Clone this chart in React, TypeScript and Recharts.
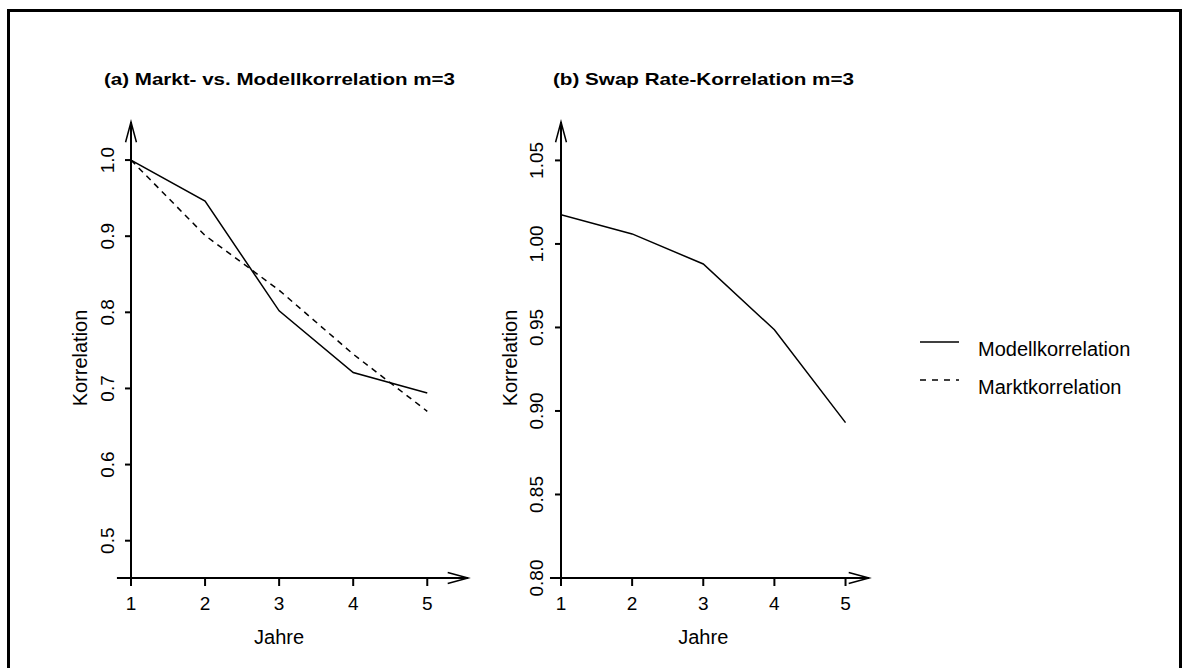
import React from 'react';
import { LineChart, Line, XAxis, YAxis, ReferenceLine, Legend, Label } from 'recharts';

const jahre = [1, 2, 3, 4, 5];
const modellA = [1.0, 0.946, 0.802, 0.721, 0.694];
const marktA = [1.0, 0.901, 0.829, 0.745, 0.67];
const swapB = [1.0175, 1.006, 0.988, 0.9486, 0.893];
const ticksA = [0.5, 0.6, 0.7, 0.8, 0.9, 1.0];
const ticksB = [0.8, 0.85, 0.9, 0.95, 1.0, 1.05];
const seriesNames = ['Modellkorrelation', 'Marktkorrelation'];
const titles = ['(a) Markt- vs. Modellkorrelation m=3', '(b) Swap Rate-Korrelation m=3'];

const dataA = jahre.map((j, i) => ({ jahr: j, modell: modellA[i], markt: marktA[i] }));
const dataB = jahre.map((j, i) => ({ jahr: j, swap: swapB[i] }));

const FONT = '"Liberation Sans", Arial, Helvetica, sans-serif';
const dashes: Record<string, string | undefined> = {
  Modellkorrelation: undefined,
  Marktkorrelation: '6 6',
};

// axis line drawn with an open arrow head at the far end
const AxisArrow = (p: any) => {
  const { x1, y1, x2, y2 } = p;
  const ang = Math.atan2(y2 - y1, x2 - x1);
  const len = 21;
  const spread = Math.PI / 12;
  const a1 = ang + Math.PI - spread;
  const a2 = ang + Math.PI + spread;
  return (
    <g>
      <line x1={x1} y1={y1} x2={x2} y2={y2} stroke="#000" strokeWidth={2} />
      <polyline
        points={`${x2 + len * Math.cos(a1)},${y2 + len * Math.sin(a1)} ${x2},${y2} ${x2 + len * Math.cos(a2)},${y2 + len * Math.sin(a2)}`}
        fill="none"
        stroke="#000"
        strokeWidth={1.5}
      />
    </g>
  );
};

const makeYTick = (dec: number) => (props: any) => {
  const { x, y, payload } = props;
  return (
    <text x={x} y={y} transform={`rotate(-90 ${x} ${y})`} textAnchor="middle" fontSize={19} fill="#000" fontFamily={FONT}>
      {Number(payload.value).toFixed(dec)}
    </text>
  );
};

const xLabel = (xmin: number, xmax: number) => (props: any) => {
  const vb = props.viewBox || {};
  const mid = (jahre[0] + jahre[jahre.length - 1]) / 2;
  const cx = vb.x + (vb.width * (mid - xmin)) / (xmax - xmin);
  return (
    <text x={cx} y={vb.y + 66} textAnchor="middle" fontSize={20} fill="#000" fontFamily={FONT}>
      Jahre
    </text>
  );
};

const yLabel = (props: any) => {
  const vb = props.viewBox || {};
  const x = vb.x + vb.width - 44;
  const y = vb.y + vb.height / 2 + 8;
  return (
    <text x={x} y={y} transform={`rotate(-90 ${x} ${y})`} textAnchor="middle" fontSize={20} fill="#000" fontFamily={FONT}>
      Korrelation
    </text>
  );
};

const renderLegend = (props: any) => {
  const items = [...(props.payload || [])].sort(
    (a: any, b: any) => seriesNames.indexOf(a.value) - seriesNames.indexOf(b.value)
  );
  return (
    <svg width={280} height={80}>
      {items.map((e: any, i: number) => (
        <g key={e.value}>
          <line x1={20} x2={59} y1={14 + i * 38} y2={14 + i * 38} stroke="#000" strokeWidth={1.5} strokeDasharray={dashes[e.value]} />
          <text x={78} y={28 + i * 38} fontSize={20} fill="#000" fontFamily={FONT}>
            {e.value}
          </text>
        </g>
      ))}
    </svg>
  );
};

export default function App() {
  const domA: [number, number] = [1, 5.55];
  const domB: [number, number] = [1, 5.33];
  const yDomA: [number, number] = [0.451, 1.05];
  const yDomB: [number, number] = [0.8, 1.073];

  return (
    <div style={{ position: 'absolute', left: 0, top: 0, width: 1184, height: 668, background: '#fff', overflow: 'hidden', fontFamily: FONT }}>
      <div style={{ position: 'absolute', left: 7, top: 9, width: 1175, height: 700, border: '3px solid #000', boxSizing: 'border-box' }} />

      <div style={{ position: 'absolute', left: 0, top: 0 }}>
        <LineChart width={490} height={668} data={dataA} margin={{ top: 122, left: 71, right: 22, bottom: 50 }}>
          <XAxis dataKey="jahr" type="number" domain={domA} ticks={jahre} allowDataOverflow axisLine={false}
            tickSize={8} tickMargin={11} stroke="#000" tickLine={{ stroke: '#000', strokeWidth: 2 }}
            tick={{ fill: '#000', fontSize: 19, fontFamily: FONT }} height={40}>
            <Label content={xLabel(domA[0], domA[1])} />
          </XAxis>
          <YAxis type="number" domain={yDomA} ticks={ticksA} allowDataOverflow axisLine={false} width={60}
            tickSize={6} tickMargin={11} stroke="#000" tickLine={{ stroke: '#000', strokeWidth: 2 }} tick={makeYTick(1)}>
            <Label content={yLabel} />
          </YAxis>
          <ReferenceLine segment={[{ x: 0.81, y: yDomA[0] }, { x: domA[1], y: yDomA[0] }]} ifOverflow="visible" shape={AxisArrow} />
          <ReferenceLine segment={[{ x: 1, y: yDomA[0] }, { x: 1, y: yDomA[1] }]} ifOverflow="visible" shape={AxisArrow} />
          <Line dataKey="modell" name={seriesNames[0]} stroke="#000" strokeWidth={1.5} dot={false} isAnimationActive={false} />
          <Line dataKey="markt" name={seriesNames[1]} stroke="#000" strokeWidth={1.5} strokeDasharray="6 5" dot={false} isAnimationActive={false} />
          <Legend layout="horizontal" verticalAlign="middle" align="center" content={renderLegend}
            wrapperStyle={{ left: 900, top: 328, width: 280, height: 80 }} />
        </LineChart>
      </div>

      <div style={{ position: 'absolute', left: 490, top: 0 }}>
        <LineChart width={694} height={668} data={dataB} margin={{ top: 122, left: 11, right: 315, bottom: 50 }}>
          <XAxis dataKey="jahr" type="number" domain={domB} ticks={jahre} allowDataOverflow axisLine={false}
            tickSize={8} tickMargin={11} stroke="#000" tickLine={{ stroke: '#000', strokeWidth: 2 }}
            tick={{ fill: '#000', fontSize: 19, fontFamily: FONT }} height={40}>
            <Label content={xLabel(domB[0], domB[1])} />
          </XAxis>
          <YAxis type="number" domain={yDomB} ticks={ticksB} allowDataOverflow axisLine={false} width={60}
            tickSize={6} tickMargin={12} stroke="#000" tickLine={{ stroke: '#000', strokeWidth: 2 }} tick={makeYTick(2)}>
            <Label content={yLabel} />
          </YAxis>
          <ReferenceLine segment={[{ x: 0.845, y: yDomB[0] }, { x: domB[1], y: yDomB[0] }]} ifOverflow="visible" shape={AxisArrow} />
          <ReferenceLine segment={[{ x: 1, y: yDomB[0] }, { x: 1, y: yDomB[1] }]} ifOverflow="visible" shape={AxisArrow} />
          <Line dataKey="swap" name={seriesNames[0]} stroke="#000" strokeWidth={1.5} dot={false} isAnimationActive={false} />
        </LineChart>
      </div>

      <svg width={1184} height={120} style={{ position: 'absolute', left: 0, top: 0, pointerEvents: 'none' }}>
        <text x={279.5} y={85} textAnchor="middle" fontSize={17} fontWeight="bold" fontFamily={FONT}
          textLength={351} lengthAdjust="spacingAndGlyphs">{titles[0]}</text>
        <text x={703.5} y={85} textAnchor="middle" fontSize={17} fontWeight="bold" fontFamily={FONT}
          textLength={301} lengthAdjust="spacingAndGlyphs">{titles[1]}</text>
      </svg>
    </div>
  );
}
